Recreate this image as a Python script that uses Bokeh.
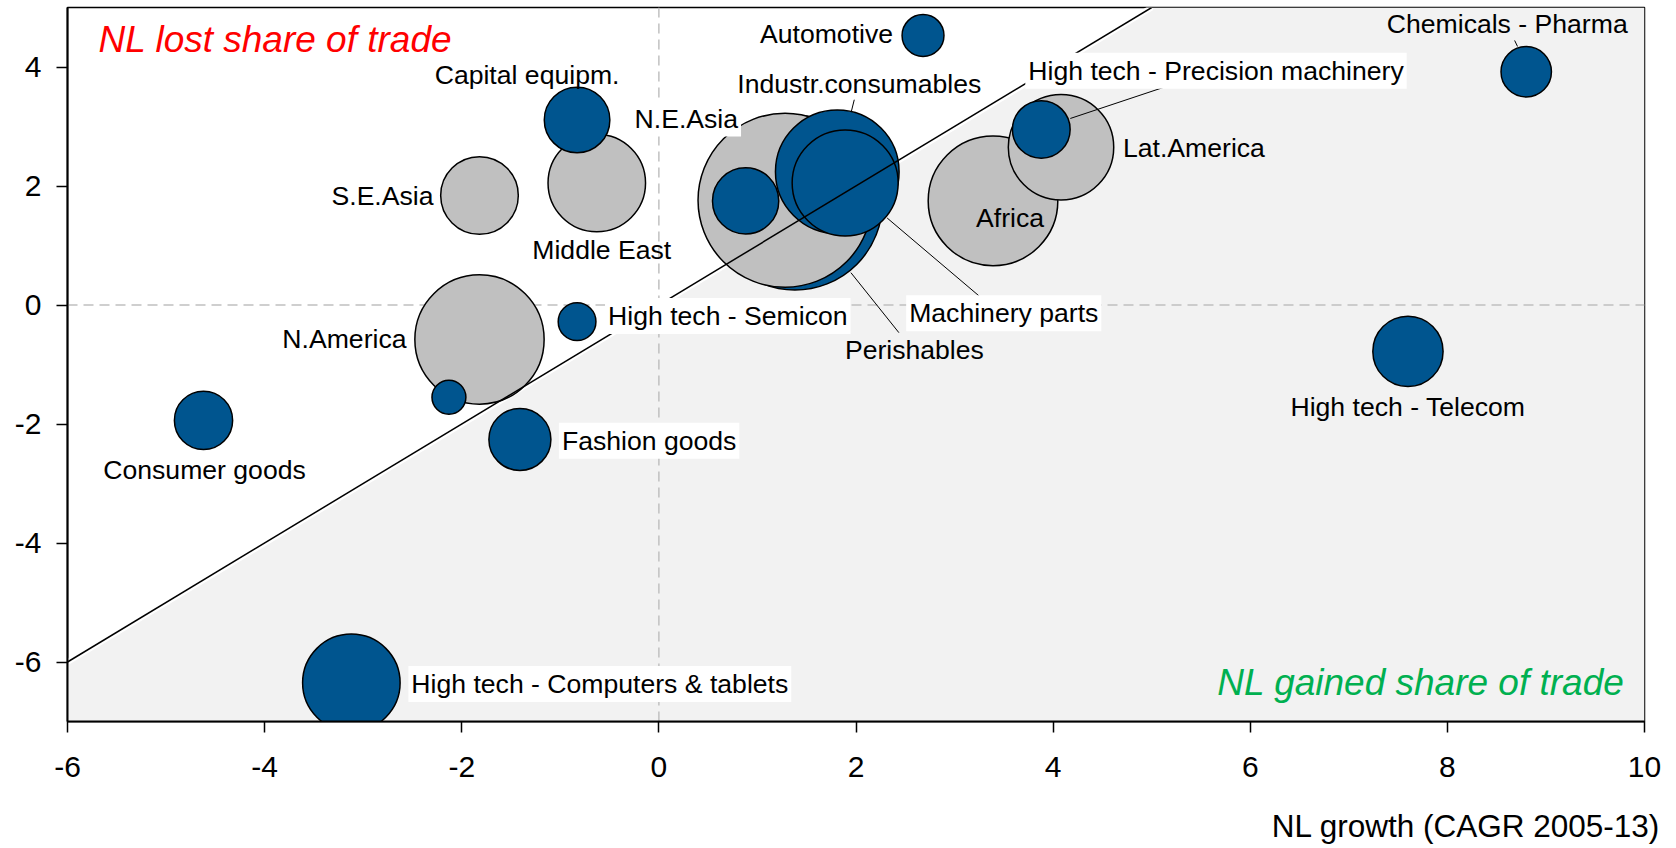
import numpy as np
from bokeh.plotting import figure
from bokeh.models import ColumnDataSource, Label, Range1d, Title
from bokeh.embed import file_html
from bokeh.resources import INLINE

# ---------------- data ----------------
names = ["Perishables", "N.E.Asia", "", "Industr.consumables", "Machinery parts",
         "Africa", "Lat.America", "High tech - Precision machinery", "Middle East",
         "Capital equipm.", "S.E.Asia", "N.America", " ", "High tech - Semicon",
         "Automotive", "Chemicals - Pharma", "High tech - Telecom", "Consumer goods",
         "Fashion goods", "High tech - Computers & tablets"]
growth = [1.38, 1.28, 0.88, 1.81, 1.89, 3.39, 4.08, 3.88, -0.63, -0.83, -1.82, -1.82,
          -2.13, -0.83, 2.68, 8.80, 7.60, -4.62, -1.41, -3.12]
share_change = [1.72, 1.76, 1.75, 2.24, 2.05, 1.75, 2.65, 2.95, 2.05, 3.11, 1.84, -0.58,
                -1.55, -0.28, 4.53, 3.92, -0.78, -1.94, -2.26, -6.35]
weight = [101.1, 100.0, 14.5, 50.5, 37.1, 55.5, 36.7, 11.0, 31.4, 14.2, 19.9, 55.2,
          3.8, 4.7, 5.8, 8.4, 16.3, 11.2, 12.7, 31.4]
group = ["product", "region", "product", "product", "product", "region", "region",
         "product", "region", "product", "region", "region", "product", "product",
         "product", "product", "product", "product", "product", "product"]

x_ticks = [-6, -4, -2, 0, 2, 4, 6, 8, 10]
y_ticks = [-6, -4, -2, 0, 2, 4]
X_MIN, X_MAX = -6, 10
Y_MIN, Y_MAX = -7, 5

x_title = "NL growth (CAGR 2005-13)"
lost_text = "NL lost share of trade"
gained_text = "NL gained share of trade"

# ---------------- styling ----------------
FONT = "Liberation Sans"
BLUE = "#00558f"
GREY = "#c0c0c0"
SHADE = "#f2f2f2"
BL, BR, BT = 67, 26, 7
fw, fh = 1577, 714
pxx = fw / (X_MAX - X_MIN)
pxy = fh / (Y_MAX - Y_MIN)
R100 = 87.0  # radius in px of a bubble with weight 100
LAB_FS = 26.6
QUAD_FS = 37
BASE_FIX = 0.33  # baseline correction, fraction of font size

# label placement: (dx px, dy px down, align, white box)
label_style = {
    "Automotive": (-30, 7, "right", False),
    "Chemicals - Pharma": (-19, -39, "center", False),
    "Capital equipm.": (-50, -36, "center", False),
    "S.E.Asia": (-46, 9, "right", False),
    "Middle East": (5, 76, "center", False),
    "N.America": (-73, 8, "right", False),
    "High tech - Semicon": (28, 3, "left", True),
    "N.E.Asia": (-44, -73, "right", True),
    "Industr.consumables": (22, -79, "center", False),
    "High tech - Precision machinery": (-16, -50, "left", True),
    "Lat.America": (62, 9, "left", False),
    "Africa": (17, 26, "center", False),
    "Machinery parts": (61, 139, "left", True),
    "Perishables": (50, 156, "left", False),
    "High tech - Telecom": (0, 64, "center", False),
    "Consumer goods": (1, 58, "center", False),
    "Fashion goods": (39, 10, "left", True),
    "High tech - Computers & tablets": (57, 10, "left", True),
}
# leader lines in px relative to bubble centre: (x0, y0, x1, y1), y down
leaders = {
    "Chemicals - Pharma": (-11.6, -31.3, -8.7, -25.3),
    "Industr.consumables": (17, -72, 14, -60),
    "High tech - Precision machinery": (125, -43, 29, -11),
    "Machinery parts": (134, 113, 42, 35),
    "Perishables": (104, 130, 56, 70),
}

p = figure(frame_width=fw, frame_height=fh,
           x_range=Range1d(X_MIN, X_MAX), y_range=Range1d(Y_MIN, Y_MAX),
           output_backend="svg", toolbar_location=None,
           min_border_left=BL, min_border_right=BR, min_border_top=BT, min_border_bottom=0)
p.background_fill_color = "white"
p.border_fill_color = "white"
p.outline_line_color = "black"
p.outline_line_width = 1.5
p.grid.visible = False

# shaded "gained" region below the diagonal y = x
diag_x = [X_MIN, Y_MAX]
diag_y = [X_MIN, Y_MAX]
p.patch([X_MIN, X_MIN, Y_MAX, X_MAX, X_MAX], [Y_MIN, X_MIN, Y_MAX, Y_MAX, Y_MIN],
        fill_color=SHADE, line_color=None)
p.line(diag_x, diag_y, line_color="white", line_width=6)

# zero lines
p.segment(x0=[0, X_MIN], y0=[Y_MIN, 0], x1=[0, X_MAX], y1=[Y_MAX, 0],
          line_color="#c0c0c0", line_width=1.5, line_dash="10 6")

# bubbles
src = ColumnDataSource(dict(
    x=growth, y=share_change,
    size=[2 * R100 * np.sqrt(w / 100.0) for w in weight],
    color=[BLUE if g == "product" else GREY for g in group],
))
p.scatter("x", "y", size="size", source=src, fill_color="color",
          line_color="black", line_width=1.5)

# diagonal
p.line(diag_x, diag_y, line_color="black", line_width=1.5)

# leader lines
lx0, ly0, lx1, ly1 = [], [], [], []
for nm, (a, b, c, d) in leaders.items():
    i = names.index(nm)
    lx0.append(growth[i] + a / pxx); ly0.append(share_change[i] - b / pxy)
    lx1.append(growth[i] + c / pxx); ly1.append(share_change[i] - d / pxy)
p.segment(x0=lx0, y0=ly0, x1=lx1, y1=ly1, line_color="black", line_width=1)

# bubble labels
for nm, (dx, dy, align, boxed) in label_style.items():
    i = names.index(nm)
    dyc = dy - BASE_FIX * LAB_FS
    lab = Label(x=growth[i] + dx / pxx, y=share_change[i] - dyc / pxy, text=nm,
                text_font=FONT, text_font_size=f"{LAB_FS}px", text_color="black",
                text_align=align, text_baseline="alphabetic")
    if boxed:
        lab.background_fill_color = "white"
        lab.padding = 3
    p.add_layout(lab)

# quadrant texts
p.add_layout(Label(x=X_MIN + 31 / pxx, y=Y_MAX - (44 - BASE_FIX * QUAD_FS) / pxy, text=lost_text,
                   text_font=FONT, text_font_size=f"{QUAD_FS}px", text_font_style="italic",
                   text_color="#ff0000", text_align="left", text_baseline="alphabetic"))
p.add_layout(Label(x=X_MAX - 20 / pxx, y=Y_MIN + (27 + BASE_FIX * QUAD_FS) / pxy, text=gained_text,
                   text_font=FONT, text_font_size=f"{QUAD_FS}px", text_font_style="italic",
                   text_color="#00b050", text_align="right", text_baseline="alphabetic"))

# axis title, right aligned below the axis
p.add_layout(Title(text=x_title, align="right", offset=-16, standoff=52,
                   text_font=FONT, text_font_size="31.5px", text_font_style="normal",
                   text_color="black"), "below")

for ax, ticks in ((p.xaxis, x_ticks), (p.yaxis, y_ticks)):
    ax.ticker = ticks
    ax.major_label_overrides = {t: str(t) for t in ticks}
    ax.axis_line_color = "black"
    ax.axis_line_width = 2
    ax.major_tick_line_color = "black"
    ax.major_tick_line_width = 1.5
    ax.major_tick_out = 11
    ax.major_tick_in = 0
    ax.minor_tick_line_color = None
    ax.major_label_text_font = FONT
    ax.major_label_text_font_size = "30px"
    ax.major_label_text_color = "black"
p.xaxis.major_label_standoff = 24
p.yaxis.major_label_standoff = 15

open("out.html", "w").write(file_html(p, INLINE))
